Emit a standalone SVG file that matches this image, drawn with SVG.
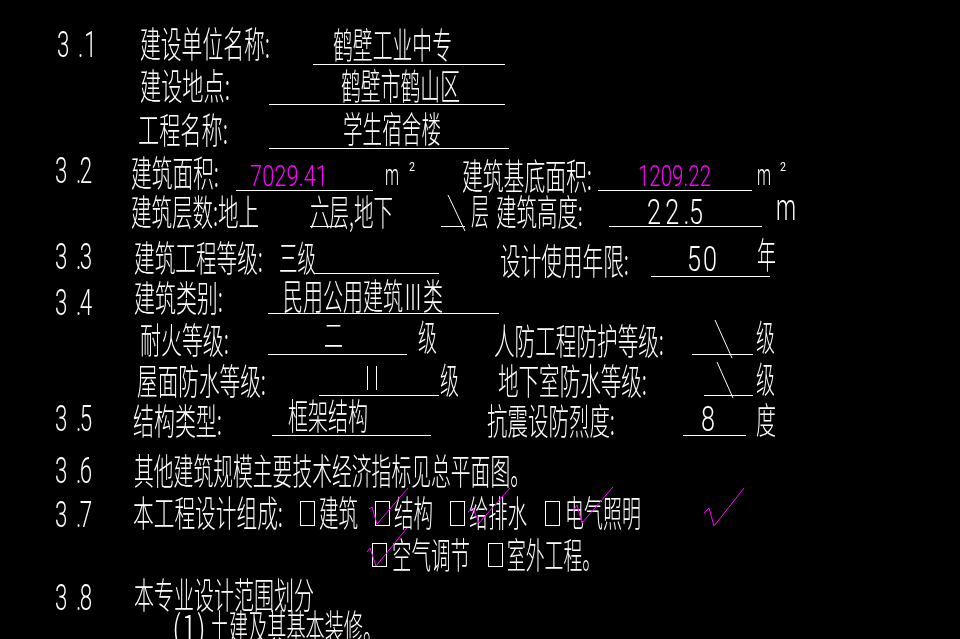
<svg xmlns="http://www.w3.org/2000/svg" width="960" height="639" viewBox="0 0 960 639">
<defs><filter id="gray" filterUnits="userSpaceOnUse" x="0" y="0" width="960" height="639" color-interpolation-filters="sRGB"><feOffset dx="0" dy="0"/></filter></defs>
<style>
text{fill:#fff;font-family:"Noto Sans CJK SC","Noto Sans",sans-serif;font-size:36px;font-weight:300;}
.n{font-family:Roboto,"Liberation Sans",sans-serif;font-size:36px;font-weight:300;}
.v{font-family:Roboto,"Liberation Sans",sans-serif;font-size:30px;font-weight:300;}
.s{font-family:Roboto,"Liberation Sans",sans-serif;font-size:30px;font-weight:300;}
.t{font-family:Roboto,"Liberation Sans",sans-serif;font-size:13px;font-weight:400;}
text.m{fill:#f0f;}
line,rect,polyline{stroke:#fff;stroke-width:1;fill:none;shape-rendering:crispEdges;}
rect.bg{fill:#000;stroke:none;}
polyline.c{stroke:#f0f;shape-rendering:auto;}
line.a{shape-rendering:auto;}
.f{filter:url(#gray);}
</style>
<rect class="bg" width="960" height="639"/>
<g id="section-numbers" class="f">
<text class="n" transform="translate(57 57) scale(.62 1)" x="0 34 44">3.1</text>
<text class="n" transform="translate(55 183) scale(.62 1)" x="0 34 40">3.2</text>
<text class="n" transform="translate(55 269) scale(.62 1)" x="0 34 40">3.3</text>
<text class="n" transform="translate(55 315) scale(.62 1)" x="0 34 40">3.4</text>
<text class="n" transform="translate(55 431) scale(.62 1)" x="0 34 40">3.5</text>
<text class="n" transform="translate(55 483) scale(.62 1)" x="0 34 40">3.6</text>
<text class="n" transform="translate(55 527) scale(.62 1)" x="0 34 40">3.7</text>
<text class="n" transform="translate(55 610) scale(.62 1)" x="0 34 40">3.8</text>
</g>
<g id="text-white" class="f">
<text x="140" y="58" textLength="130" lengthAdjust="spacingAndGlyphs">建设单位名称:</text>
<text x="333" y="59" textLength="119" lengthAdjust="spacingAndGlyphs">鹤壁工业中专</text>
<text x="140" y="100" textLength="90" lengthAdjust="spacingAndGlyphs">建设地点:</text>
<text x="341" y="100" textLength="119" lengthAdjust="spacingAndGlyphs">鹤壁市鹤山区</text>
<text x="138" y="144" textLength="90" lengthAdjust="spacingAndGlyphs">工程名称:</text>
<text x="343" y="143" textLength="98" lengthAdjust="spacingAndGlyphs">学生宿舍楼</text>
<text x="131" y="187" textLength="88" lengthAdjust="spacingAndGlyphs">建筑面积:</text>
<text x="462" y="190" textLength="130" lengthAdjust="spacingAndGlyphs">建筑基底面积:</text>
<text x="131" y="226" textLength="128" lengthAdjust="spacingAndGlyphs">建筑层数:地上</text>
<text x="310" y="226" textLength="83" lengthAdjust="spacingAndGlyphs">六层,地下</text>
<text x="471" y="225" textLength="18" lengthAdjust="spacingAndGlyphs">层</text>
<text x="496" y="226" textLength="87" lengthAdjust="spacingAndGlyphs">建筑高度:</text>
<text x="134" y="272" textLength="129" lengthAdjust="spacingAndGlyphs">建筑工程等级:</text>
<text x="279" y="272" textLength="37" lengthAdjust="spacingAndGlyphs">三级</text>
<text x="500" y="275" textLength="129" lengthAdjust="spacingAndGlyphs">设计使用年限:</text>
<text x="757" y="269" textLength="19" lengthAdjust="spacingAndGlyphs">年</text>
<text x="134" y="312" textLength="89" lengthAdjust="spacingAndGlyphs">建筑类别:</text>
<text x="283" y="310" textLength="160" lengthAdjust="spacingAndGlyphs">民用公用建筑Ⅲ类</text>
<text x="140" y="354" textLength="89" lengthAdjust="spacingAndGlyphs">耐火等级:</text>
<text x="324" y="347" textLength="19" lengthAdjust="spacingAndGlyphs" style="font-size:32px">二</text>
<text x="418" y="351" textLength="19" lengthAdjust="spacingAndGlyphs">级</text>
<text x="494" y="355" textLength="170" lengthAdjust="spacingAndGlyphs">人防工程防护等级:</text>
<text x="756" y="351" textLength="19" lengthAdjust="spacingAndGlyphs">级</text>
<text x="137" y="395" textLength="129" lengthAdjust="spacingAndGlyphs">屋面防水等级:</text>
<text x="440" y="394" textLength="19" lengthAdjust="spacingAndGlyphs">级</text>
<text x="498" y="395" textLength="149" lengthAdjust="spacingAndGlyphs">地下室防水等级:</text>
<text x="756" y="393" textLength="19" lengthAdjust="spacingAndGlyphs">级</text>
<text x="133" y="435" textLength="89" lengthAdjust="spacingAndGlyphs">结构类型:</text>
<text x="288" y="430" textLength="80" lengthAdjust="spacingAndGlyphs">框架结构</text>
<text x="487" y="435" textLength="128" lengthAdjust="spacingAndGlyphs">抗震设防烈度:</text>
<text x="756" y="434" textLength="20" lengthAdjust="spacingAndGlyphs">度</text>
<text x="134" y="485" textLength="396" lengthAdjust="spacingAndGlyphs">其他建筑规模主要技术经济指标见总平面图。</text>
<text x="133" y="527" textLength="150" lengthAdjust="spacingAndGlyphs">本工程设计组成:</text>
<text x="319" y="527" textLength="39" lengthAdjust="spacingAndGlyphs">建筑</text>
<text x="394" y="527" textLength="39" lengthAdjust="spacingAndGlyphs">结构</text>
<text x="469" y="527" textLength="58" lengthAdjust="spacingAndGlyphs">给排水</text>
<text x="565" y="527" textLength="76" lengthAdjust="spacingAndGlyphs">电气照明</text>
<text x="392" y="569" textLength="78" lengthAdjust="spacingAndGlyphs">空气调节</text>
<text x="507" y="569" textLength="94" lengthAdjust="spacingAndGlyphs">室外工程。</text>
<text x="134" y="609" textLength="180" lengthAdjust="spacingAndGlyphs">本专业设计范围划分</text>
<text x="172" y="641" textLength="34" lengthAdjust="spacingAndGlyphs">(1)</text>
<text x="210" y="641" textLength="172" lengthAdjust="spacingAndGlyphs">土建及其基本装修。</text>
</g>
<g id="values" class="f">
<text class="v m" x="250" y="186" textLength="78" lengthAdjust="spacingAndGlyphs">7029.41</text>
<text class="v m" x="638" y="186" textLength="73" lengthAdjust="spacingAndGlyphs">1209.22</text>
<text class="s" x="385" y="185" textLength="14" lengthAdjust="spacingAndGlyphs">m</text>
<text class="t" x="409" y="171" textLength="6" lengthAdjust="spacingAndGlyphs">2</text>
<text class="s" x="757" y="185" textLength="14" lengthAdjust="spacingAndGlyphs">m</text>
<text class="t" x="780" y="171" textLength="6" lengthAdjust="spacingAndGlyphs">2</text>
<text class="n" transform="translate(647 224) scale(.7 1)" x="0 26 52 60">22.5</text>
<text class="s" style="font-size:36px" x="776" y="220" textLength="20" lengthAdjust="spacingAndGlyphs">m</text>
<text class="n" transform="translate(687 271) scale(.7 1)" x="0 23">50</text>
<text class="n" transform="translate(701 431) scale(.7 1)" x="0">8</text>
</g>
<g id="connectors">
<line x1="313" y1="64.5" x2="505" y2="64.5"/>
<line x1="269" y1="104.5" x2="505" y2="104.5"/>
<line x1="269" y1="148.5" x2="509" y2="148.5"/>
<line x1="236" y1="190.5" x2="373" y2="190.5"/>
<line x1="598" y1="190.5" x2="752" y2="190.5"/>
<line x1="310" y1="226.5" x2="343" y2="226.5"/>
<line x1="441" y1="226.5" x2="465" y2="226.5"/>
<line class="a" x1="448" y1="195" x2="465" y2="231"/>
<line x1="609" y1="226.5" x2="762" y2="226.5"/>
<line x1="315" y1="273.5" x2="439" y2="273.5"/>
<line x1="651" y1="276.5" x2="770" y2="276.5"/>
<line x1="268" y1="313.5" x2="499" y2="313.5"/>
<line x1="268" y1="354.5" x2="407" y2="354.5"/>
<line x1="692" y1="354.5" x2="753" y2="354.5"/>
<line class="a" x1="715" y1="320" x2="732" y2="358"/>
<line x1="367.5" y1="366" x2="367.5" y2="390"/>
<line x1="376.5" y1="366" x2="376.5" y2="390"/>
<line x1="319" y1="395.5" x2="439" y2="395.5"/>
<line x1="704" y1="395.5" x2="753" y2="395.5"/>
<line class="a" x1="717" y1="362" x2="733" y2="398"/>
<line x1="272" y1="435.5" x2="431" y2="435.5"/>
<line x1="683" y1="435.5" x2="746" y2="435.5"/>
</g>
<g id="checkboxes">
<rect x="300.5" y="501.5" width="14" height="24"/>
<rect x="375.5" y="501.5" width="14" height="24"/>
<rect x="450.5" y="501.5" width="14" height="24"/>
<rect x="545.5" y="501.5" width="14" height="24"/>
<rect x="372.5" y="543.5" width="14" height="23"/>
<rect x="488.5" y="543.5" width="14" height="23"/>
<polyline class="c" points="369,509 372,507 377,524 408,488"/>
<polyline class="c" points="468,512 473,508 479,523 510,488"/>
<polyline class="c" points="573,511 577,505 582,523 613,487"/>
<polyline class="c" points="704,513 709,508 714,526 744,488"/>
<polyline class="c" points="367,552 370,548 376,566 407,528"/>
</g>
</svg>
